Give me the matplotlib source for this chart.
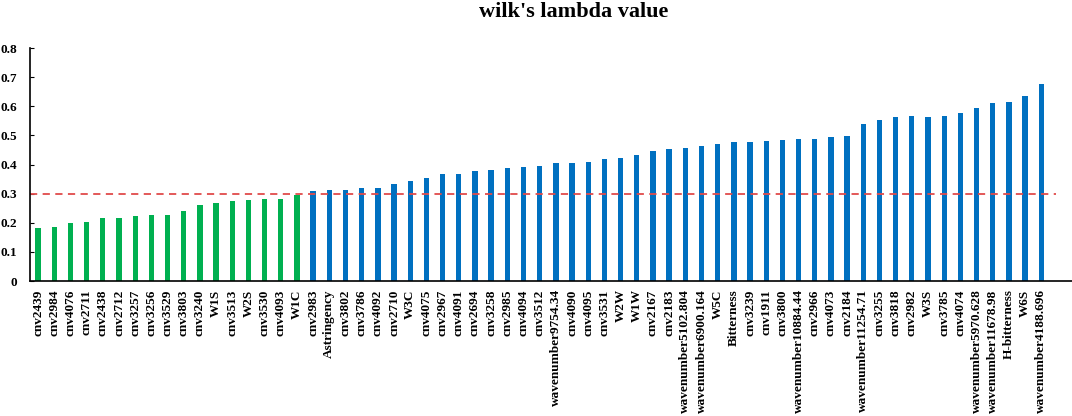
import numpy as np
import matplotlib.pyplot as plt

plt.rcParams["font.family"] = ["Liberation Serif", "DejaVu Serif"]
plt.rcParams["font.weight"] = "bold"

# variables below the 0.3 cut-off (green) and above it (blue)
low_labels = [
    "cnv2439", "cnv2984", "cnv4076", "cnv2711", "cnv2438", "cnv2712",
    "cnv3257", "cnv3256", "cnv3529", "cnv3803", "cnv3240", "W1S",
    "cnv3513", "W2S", "cnv3530", "cnv4093", "W1C",
]
low_values = [
    0.182, 0.184, 0.198, 0.204, 0.216, 0.218, 0.224, 0.226, 0.227,
    0.240, 0.262, 0.268, 0.275, 0.278, 0.281, 0.282, 0.294,
]

high_labels = [
    "cnv2983", "Astringency", "cnv3802", "cnv3786", "cnv4092", "cnv2710",
    "W3C", "cnv4075", "cnv2967", "cnv4091", "cnv2694", "cnv3258",
    "cnv2985", "cnv4094", "cnv3512", "wavenumber9754.34", "cnv4090",
    "cnv4095", "cnv3531", "W2W", "W1W", "cnv2167", "cnv2183",
    "wavenumber5102.804", "wavenumber6900.164", "W5C", "Bitterness",
    "cnv3239", "cnv1911", "cnv3800", "wavenumber10884.44", "cnv2966",
    "cnv4073", "cnv2184", "wavenumber11254.71", "cnv3255", "cnv3818",
    "cnv2982", "W3S", "cnv3785", "cnv4074", "wavenumber5970.628",
    "wavenumber11678.98", "H-bitterness", "W6S", "wavenumber4188.696",
]
high_values = [
    0.308, 0.312, 0.312, 0.318, 0.318, 0.332, 0.342, 0.355, 0.368,
    0.369, 0.378, 0.380, 0.388, 0.390, 0.396, 0.406, 0.406, 0.408,
    0.420, 0.422, 0.433, 0.446, 0.452, 0.457, 0.464, 0.469, 0.476,
    0.477, 0.481, 0.483, 0.486, 0.487, 0.494, 0.499, 0.540, 0.553,
    0.563, 0.565, 0.564, 0.566, 0.577, 0.593, 0.611, 0.616, 0.635,
    0.677,
]

threshold = 0.3
y_ticks = [0, 0.1, 0.2, 0.3, 0.4, 0.5, 0.6, 0.7, 0.8]

labels = low_labels + high_labels
n_low = len(low_labels)
x = np.arange(len(labels))

fig = plt.figure(figsize=(10.72, 4.16), dpi=100)
ax = fig.add_axes([0.028, 0.3245, 0.972, 0.56])

ax.bar(x[:n_low], low_values, width=0.33, color="#00B050")
ax.bar(x[n_low:], high_values, width=0.33, color="#0070C0")

x_left, x_right = -0.5, len(labels) + 0.9
ax.set_xlim(x_left, x_right)
ax.set_ylim(0, 0.8)
line_end = (len(labels) - 0.1 - x_left) / (x_right - x_left)
ax.axhline(threshold, xmin=0, xmax=line_end, color="#E04B4B",
           linestyle=(0, (4, 3)), linewidth=1.3)

ax.set_xticks(x)
ax.set_xticklabels(labels, rotation=90, fontsize=9.5, fontweight="bold")
ax.set_yticks(y_ticks)
ax.set_yticklabels([f"{v:g}" for v in y_ticks], fontsize=9.5, fontweight="bold")
ax.tick_params(axis="x", length=0, pad=6)
ax.tick_params(axis="y", direction="in", length=3, pad=9)

ax.spines["top"].set_visible(False)
ax.spines["right"].set_visible(False)
ax.spines["left"].set_linewidth(1.2)
ax.spines["bottom"].set_linewidth(1.2)

fig.text(0.535, 0.972, "wilk's lambda value", ha="center", va="center",
         fontsize=16, fontweight="bold")

fig.savefig("out.png", dpi=100)
